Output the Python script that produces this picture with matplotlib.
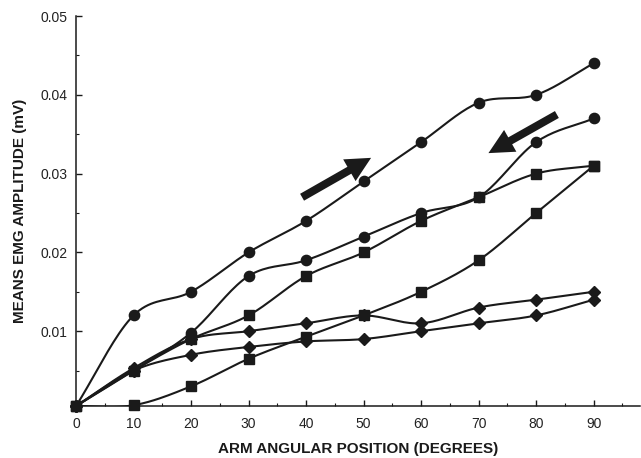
import numpy as np
import matplotlib
matplotlib.use("Agg")
import matplotlib.pyplot as plt
from matplotlib.ticker import MultipleLocator, FixedLocator, FormatStrFormatter

plt.rcParams['font.family'] = ['Liberation Sans', 'DejaVu Sans']

angles = [0, 10, 20, 30, 40, 50, 60, 70, 80, 90]
circle_up = [0.0005, 0.012, 0.015, 0.020, 0.024, 0.029, 0.034, 0.039, 0.040, 0.044]
circle_down = [0.0005, 0.005, 0.0098, 0.017, 0.019, 0.022, 0.025, 0.027, 0.034, 0.037]
square_up = [0.0005, 0.005, 0.009, 0.012, 0.017, 0.020, 0.024, 0.027, 0.030, 0.031]
square_low = [0.0005, 0.0006, 0.003, 0.0065, 0.0093, 0.012, 0.015, 0.019, 0.025, 0.031]
diamond_up = [0.0005, 0.0053, 0.009, 0.010, 0.011, 0.012, 0.011, 0.013, 0.014, 0.015]
diamond_low = [0.0005, 0.005, 0.007, 0.008, 0.0087, 0.009, 0.010, 0.011, 0.012, 0.014]

x_ticks = [0, 10, 20, 30, 40, 50, 60, 70, 80, 90]
y_ticks = [0.01, 0.02, 0.03, 0.04, 0.05]

arrow_up = ((39.3, 0.0270), (51.3, 0.0320))
arrow_down = ((83.6, 0.0375), (71.7, 0.0326))


def catmull_rom(x, y, n=20):
    x = np.asarray(x, float)
    y = np.asarray(y, float)
    px = np.concatenate([[2 * x[0] - x[1]], x, [2 * x[-1] - x[-2]]])
    py = np.concatenate([[2 * y[0] - y[1]], y, [2 * y[-1] - y[-2]]])
    xs, ys = [], []
    t = np.linspace(0, 1, n, endpoint=False)
    for i in range(1, len(px) - 2):
        for arr, out in ((px, xs), (py, ys)):
            p0, p1, p2, p3 = arr[i - 1], arr[i], arr[i + 1], arr[i + 2]
            out.append(0.5 * ((2 * p1) + (-p0 + p2) * t +
                              (2 * p0 - 5 * p1 + 4 * p2 - p3) * t ** 2 +
                              (-p0 + 3 * p1 - 3 * p2 + p3) * t ** 3))
    xs = np.concatenate(xs + [[x[-1]]])
    ys = np.concatenate(ys + [[y[-1]]])
    return xs, ys


fig = plt.figure(figsize=(6.41, 4.58), dpi=100)
ax = fig.add_axes([0.1186, 0.1135, 0.8794, 0.8515])

series = [
    (circle_up, 'o', 7.4),
    (circle_down, 'o', 7.4),
    (square_up, 's', 7.2),
    (square_low, 's', 7.2),
    (diamond_up, 'D', 5.8),
    (diamond_low, 'D', 5.8),
]
for vals, m, ms in series:
    sx, sy = catmull_rom(angles, vals)
    ax.plot(sx, sy, color='#1a1a1a', lw=1.5, zorder=2)
    ax.plot(angles, vals, linestyle='none', marker=m, ms=ms,
            color='#1a1a1a', zorder=3, clip_on=False)

for (x0, y0), (x1, y1) in (arrow_up, arrow_down):
    ax.annotate('', xy=(x1, y1), xytext=(x0, y0),
                arrowprops=dict(arrowstyle='simple,head_length=1.2,head_width=1.2,tail_width=0.38',
                                mutation_scale=15, lw=0, fc='#1a1a1a', ec='none',
                                shrinkA=0, shrinkB=0))

ax.set_xlim(0, 98)
ax.set_ylim(0.0005, 0.05)
ax.xaxis.set_major_locator(FixedLocator(x_ticks))
ax.xaxis.set_minor_locator(MultipleLocator(5))
ax.yaxis.set_major_locator(FixedLocator(y_ticks))
ax.yaxis.set_minor_locator(MultipleLocator(0.005))
ax.yaxis.set_major_formatter(FormatStrFormatter('%.2f'))
ax.xaxis.set_major_formatter(FormatStrFormatter('%d'))

for s in ('top', 'right'):
    ax.spines[s].set_visible(False)
for s in ('left', 'bottom'):
    ax.spines[s].set_linewidth(1.1)
    ax.spines[s].set_color('#1a1a1a')

ax.tick_params(which='both', direction='in', colors='#1a1a1a', labelsize=10,
               labelcolor='#222222')
ax.tick_params(which='major', length=4, width=1)
ax.tick_params(which='minor', length=2.5, width=0.8)
ax.tick_params(axis='x', pad=8)
ax.tick_params(axis='y', pad=6)

ax.set_xlabel('ARM ANGULAR POSITION (DEGREES)', fontsize=11, fontweight='bold',
              labelpad=8, color='#1a1a1a')
ax.set_ylabel('MEANS EMG AMPLITUDE (mV)', fontsize=11, fontweight='bold',
              labelpad=10, color='#1a1a1a')

fig.savefig('out.png', dpi=100)
